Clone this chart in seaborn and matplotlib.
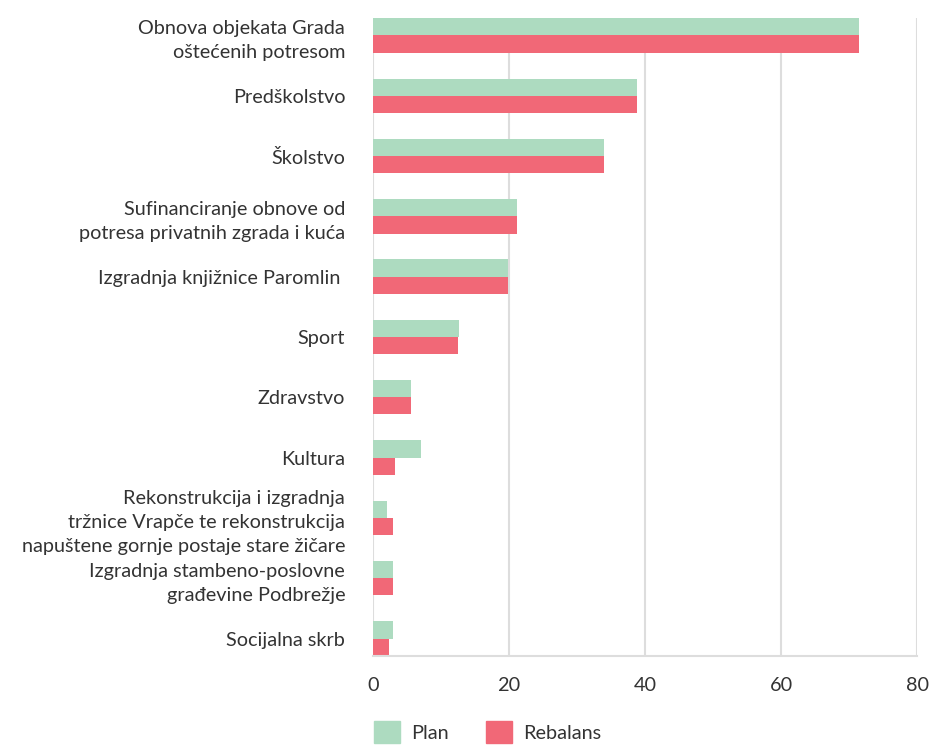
import pandas as pd
import matplotlib.pyplot as plt
import seaborn as sns
from matplotlib.patches import Patch

# podaci (mil. EUR)
kategorije = [
    "Obnova objekata Grada\noštećenih potresom",
    "Predškolstvo",
    "Školstvo",
    "Sufinanciranje obnove od\npotresa privatnih zgrada i kuća",
    "Izgradnja knjižnice Paromlin ",
    "Sport",
    "Zdravstvo",
    "Kultura",
    "Rekonstrukcija i izgradnja\ntržnice Vrapče te rekonstrukcija\nnapuštene gornje postaje stare žičare",
    "Izgradnja stambeno-poslovne\ngrađevine Podbrežje",
    "Socijalna skrb",
]
plan = [71.5, 38.8, 34.0, 21.2, 19.85, 12.6, 5.6, 7.0, 2.1, 2.9, 3.0]
rebalans = [71.5, 38.8, 34.0, 21.2, 19.85, 12.5, 5.6, 3.3, 3.0, 2.9, 2.4]
serije = ["Plan", "Rebalans"]
boje = ["#ADDBC0", "#F16877"]

df = pd.DataFrame({"kategorija": kategorije, "Plan": plan, "Rebalans": rebalans})
df = df.melt(id_vars="kategorija", var_name="serija", value_name="iznos")

sns.set_theme(style="white")
plt.rcParams["font.family"] = ["Lato", "DejaVu Sans"]

fig = plt.figure(figsize=(9.32, 7.46), dpi=100)
ax = fig.add_axes([0.4002, 0.1206, 0.5838, 0.8554])

sns.barplot(data=df, y="kategorija", x="iznos", hue="serija", order=kategorije,
            hue_order=serije, palette=boje, width=0.57, saturation=1,
            orient="h", ax=ax, legend=False, linewidth=0)

ax.set_xlim(0, 80)
ax.set_ylim(len(kategorije) - 1 + 0.29, -0.29)
ax.set_xticks([0, 20, 40, 60, 80])
ax.grid(axis="x", color="#DDDDDD", linewidth=1.5)
ax.set_axisbelow(True)
for s in ["top", "right", "left"]:
    ax.spines[s].set_visible(False)
ax.spines["bottom"].set_color("#DDDDDD")
ax.spines["bottom"].set_linewidth(1.5)
ax.set_xlabel("")
ax.set_ylabel("")
ax.tick_params(axis="y", length=0, pad=20, labelsize=14.3, labelcolor="#333333")
ax.tick_params(axis="x", length=0, pad=15, labelsize=14.3, labelcolor="#333333")
for lbl in ax.get_yticklabels():
    lbl.set_linespacing(1.5)

handles = [Patch(color=c, label=s) for s, c in zip(serije, boje)]
fig.legend(handles=handles, loc="lower left", bbox_to_anchor=(0.382, -0.02),
           ncol=2, frameon=False, fontsize=14.3, handlelength=1.3,
           handleheight=1.3, handletextpad=0.55, columnspacing=1.9,
           labelcolor="#333333")

fig.savefig("out.png", dpi=100)
